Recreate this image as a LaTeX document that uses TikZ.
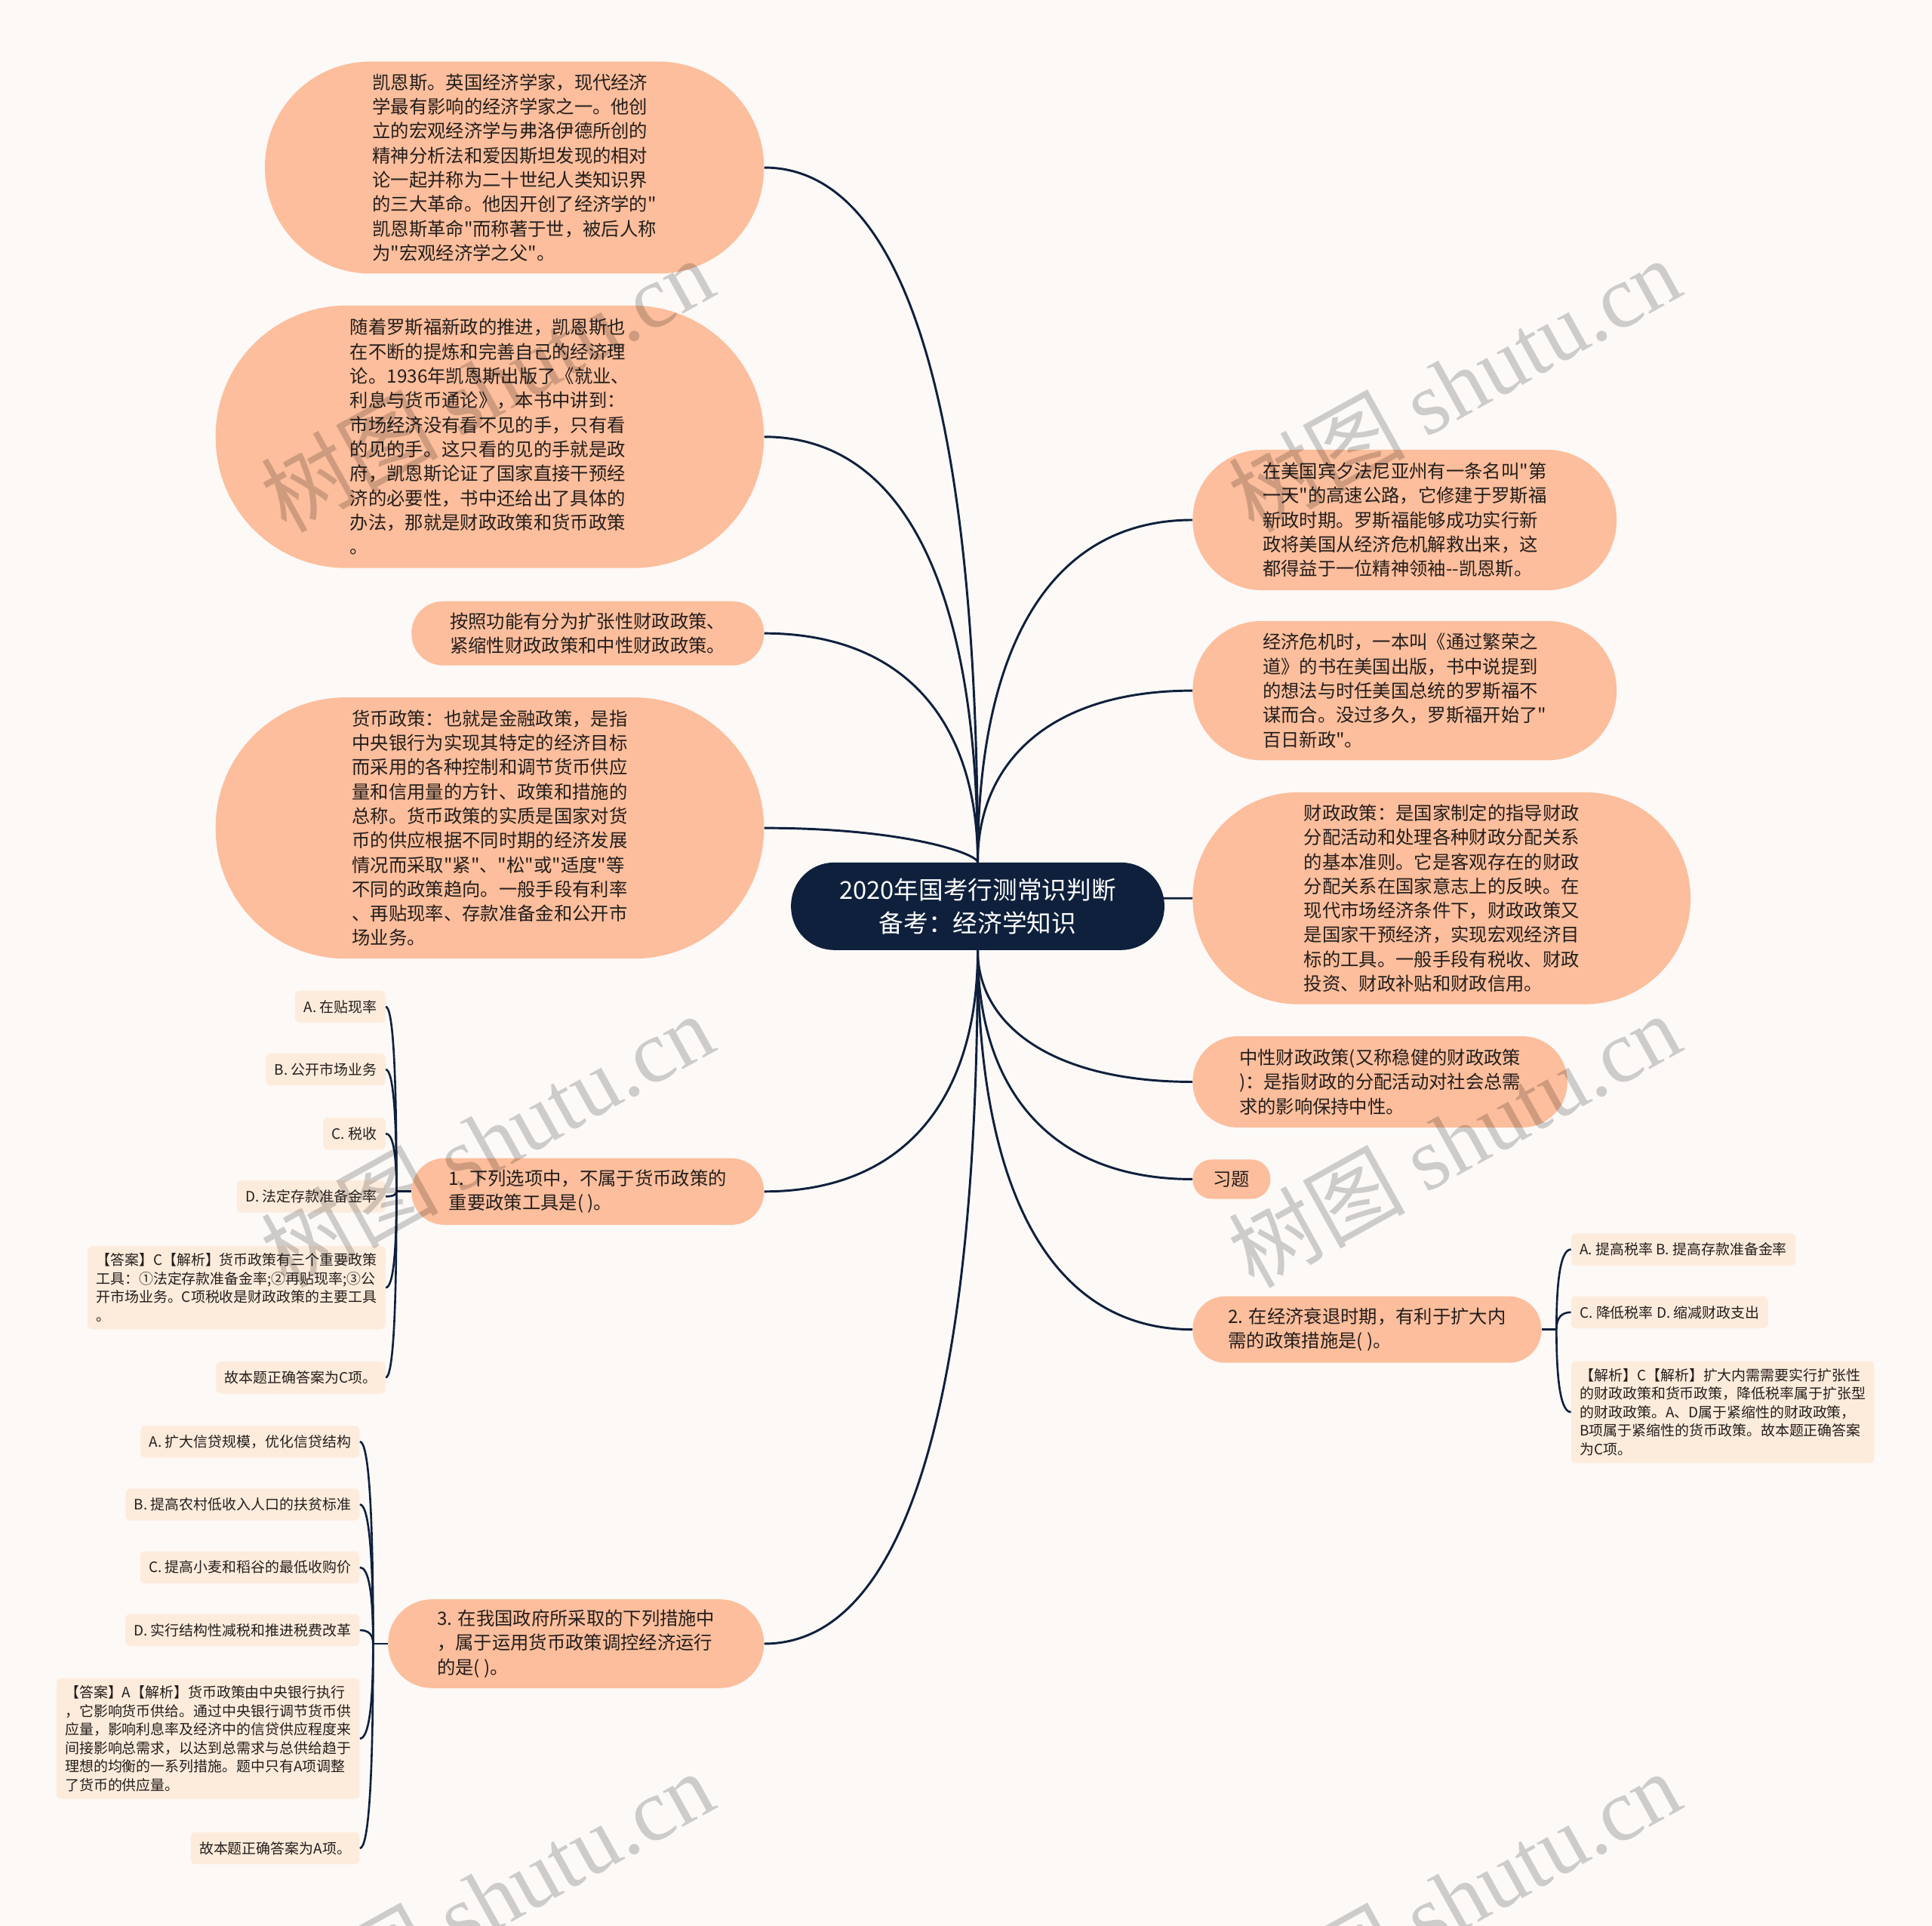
\documentclass[tikz,border=0pt]{standalone}
\usepackage{fontspec}
\setmainfont{Noto Sans CJK SC}[Ligatures=TeXOff]
\newfontfamily\wmserif{Liberation Serif}
\usetikzlibrary{calc,backgrounds}
\definecolor{bgc}{RGB}{252,249,247}
\definecolor{orangec}{RGB}{252,190,156}
\definecolor{lightc}{RGB}{253,236,220}
\definecolor{navyc}{RGB}{14,32,60}
\definecolor{textc}{RGB}{35,30,28}
\newcommand\qcurve[3][link]{%
  \coordinate (qk) at (#2 |- #3);
  \draw[#1] (#2) .. controls ($(#2)!0.6667!(qk)$) and ($(#3)!0.6667!(qk)$) .. (#3);
}
\tikzset{
  bignode/.style={fill=orangec, text=textc, align=left, inner sep=0pt,
    font=\fontsize{14.9}{19.8}\selectfont},
  big/.style n args={3}{bignode, minimum width=#1, minimum height=#2, rounded corners=#3},
  rootnode/.style={fill=navyc, text=white, align=center, inner sep=0pt,
    minimum width=303, minimum height=71, rounded corners=35,
    font=\fontsize{20}{27}\selectfont},
  optnode/.style={fill=lightc, text=textc, align=left, rounded corners=4pt,
    inner xsep=7pt, inner ysep=6pt, minimum height=26pt,
    font=\fontsize{11.6}{15}\selectfont},
  link/.style={draw=navyc, line width=1.8pt},
  sublink/.style={draw=navyc, line width=1.6pt},
  wm/.style={rotate=29, text=black, opacity=0.18, font=\fontsize{72}{72}\selectfont}
}
\begin{document}
\begin{tikzpicture}[x=1pt, y=-1pt]
\useasboundingbox (0,0) rectangle (1568,1563);

% root
\node[rootnode] (root) at (793.5,735.5) {2020年国考行测常识判断\\备考：经济学知识};

% left main branches
\node[big={405}{172}{85.5}] (L1) at (417.5,136) {凯恩斯。英国经济学家，现代经济\\学最有影响的经济学家之一。他创\\立的宏观经济学与弗洛伊德所创的\\精神分析法和爱因斯坦发现的相对\\论一起并称为二十世纪人类知识界\\的三大革命。他因开创了经济学的"\\凯恩斯革命"而称著于世，被后人称\\为"宏观经济学之父"。};
\node[big={445}{213}{106}] (L2) at (397.5,354.5) {随着罗斯福新政的推进，凯恩斯也\\在不断的提炼和完善自己的经济理\\论。1936年凯恩斯出版了《就业、\\利息与货币通论》，本书中讲到：\\市场经济没有看不见的手，只有看\\的见的手。这只看的见的手就是政\\府，凯恩斯论证了国家直接干预经\\济的必要性，书中还给出了具体的\\办法，那就是财政政策和货币政策\\。};
\node[big={286}{52}{25.5}] (L3) at (477,514) {按照功能有分为扩张性财政政策、\\紧缩性财政政策和中性财政政策。};
\node[big={445}{212}{105.5}] (L4) at (397.5,672) {货币政策：也就是金融政策，是指\\中央银行为实现其特定的经济目标\\而采用的各种控制和调节货币供应\\量和信用量的方针、政策和措施的\\总称。货币政策的实质是国家对货\\币的供应根据不同时期的经济发展\\情况而采取"紧"、"松"或"适度"等\\不同的政策趋向。一般手段有利率\\、再贴现率、存款准备金和公开市\\场业务。};
\node[big={286}{54}{26.5}] (Q1) at (477,967) {1. 下列选项中，不属于货币政策的\\重要政策工具是( )。};
\node[big={305}{72}{35.5}] (Q3) at (467.5,1334) {3. 在我国政府所采取的下列措施中\\，属于运用货币政策调控经济运行\\的是( )。};

% right main branches
\node[big={344}{114}{56.5}] (R1) at (1140,422) {在美国宾夕法尼亚州有一条名叫"第\\一天"的高速公路，它修建于罗斯福\\新政时期。罗斯福能够成功实行新\\政将美国从经济危机解救出来，这\\都得益于一位精神领袖--凯恩斯。};
\node[big={344}{113}{56}] (R2) at (1140,560.5) {经济危机时，一本叫《通过繁荣之\\道》的书在美国出版，书中说提到\\的想法与时任美国总统的罗斯福不\\谋而合。没过多久，罗斯福开始了"\\百日新政"。};
\node[big={404}{172}{85.5}] (R3) at (1170,729) {财政政策：是国家制定的指导财政\\分配活动和处理各种财政分配关系\\的基本准则。它是客观存在的财政\\分配关系在国家意志上的反映。在\\现代市场经济条件下，财政政策又\\是国家干预经济，实现宏观经济目\\标的工具。一般手段有税收、财政\\投资、财政补贴和财政信用。};
\node[big={304}{74}{36.5}] (R4) at (1120,878) {中性财政政策(又称稳健的财政政策\\)：是指财政的分配活动对社会总需\\求的影响保持中性。};
\node[big={63}{32}{15.5}] (R5) at (999.5,957) {习题};
\node[big={283}{54}{26.5}] (Q2) at (1109.5,1079) {2. 在经济衰退时期，有利于扩大内\\需的政策措施是( )。};

% Q1 options
\node[optnode, anchor=east] (A1) at (313,817) {A. 在贴现率};
\node[optnode, anchor=east] (B1) at (313,868) {B. 公开市场业务};
\node[optnode, anchor=east] (C1) at (313,920) {C. 税收};
\node[optnode, anchor=east] (D1) at (313,971) {D. 法定存款准备金率};
\node[optnode, anchor=east] (E1) at (313,1045) {【答案】C【解析】货币政策有三个重要政策\\工具：①法定存款准备金率;②再贴现率;③公\\开市场业务。C项税收是财政政策的主要工具\\。};
\node[optnode, anchor=east] (F1) at (313,1118) {故本题正确答案为C项。};

% Q3 options
\node[optnode, anchor=east] (A3) at (292,1170) {A. 扩大信贷规模，优化信贷结构};
\node[optnode, anchor=east] (B3) at (292,1221) {B. 提高农村低收入人口的扶贫标准};
\node[optnode, anchor=east] (C3) at (292,1272) {C. 提高小麦和稻谷的最低收购价};
\node[optnode, anchor=east] (D3) at (292,1323) {D. 实行结构性减税和推进税费改革};
\node[optnode, anchor=east] (E3) at (292,1411) {【答案】A【解析】货币政策由中央银行执行\\，它影响货币供给。通过中央银行调节货币供\\应量，影响利息率及经济中的信贷供应程度来\\间接影响总需求，以达到总需求与总供给趋于\\理想的均衡的一系列措施。题中只有A项调整\\了货币的供应量。};
\node[optnode, anchor=east] (F3) at (292,1500) {故本题正确答案为A项。};

% Q2 options
\node[optnode, anchor=west] (A2) at (1275,1014) {A. 提高税率 B. 提高存款准备金率};
\node[optnode, anchor=west] (B2) at (1275,1065) {C. 降低税率 D. 缩减财政支出};
\node[optnode, anchor=west] (E2) at (1275,1146) {【解析】C【解析】扩大内需需要实行扩张性\\的财政政策和货币政策，降低税率属于扩张型\\的财政政策。A、D属于紧缩性的财政政策，\\B项属于紧缩性的货币政策。故本题正确答案\\为C项。};

\begin{pgfonlayer}{background}
  \fill[bgc] (0,0) rectangle (1568,1563);
  \foreach \n in {L1,L2,L3,L4,Q1,Q3} {\qcurve{root}{\n.east}}
  \foreach \n in {R1,R2,R3,R4,R5,Q2} {\qcurve{root}{\n.west}}
  % sub-branches
  \coordinate (j1) at ($(Q1.west)+(-12,0)$);
  \draw[sublink] (Q1.west) -- (j1);
  \foreach \n in {A1,B1,C1,D1,E1,F1} {\qcurve[sublink]{j1}{\n.east}}
  \coordinate (j3) at ($(Q3.west)+(-12,0)$);
  \draw[sublink] (Q3.west) -- (j3);
  \foreach \n in {A3,B3,C3,D3,E3,F3} {\qcurve[sublink]{j3}{\n.east}}
  \coordinate (j2) at ($(Q2.east)+(12,0)$);
  \draw[sublink] (Q2.east) -- (j2);
  \foreach \n in {A2,B2,E2} {\qcurve[sublink]{j2}{\n.west}}
\end{pgfonlayer}

% watermarks
\node[wm] (w1) at (395,312) {树图 {\wmserif shutu.cn}};
\node[wm] (w2) at (1180,312) {树图 {\wmserif shutu.cn}};
\node[wm] (w3) at (395,925) {树图 {\wmserif shutu.cn}};
\node[wm] (w4) at (1180,925) {树图 {\wmserif shutu.cn}};
\node[wm] (w5) at (395,1540) {树图 {\wmserif shutu.cn}};
\node[wm] (w6) at (1180,1540) {树图 {\wmserif shutu.cn}};
\end{tikzpicture}
\end{document}
